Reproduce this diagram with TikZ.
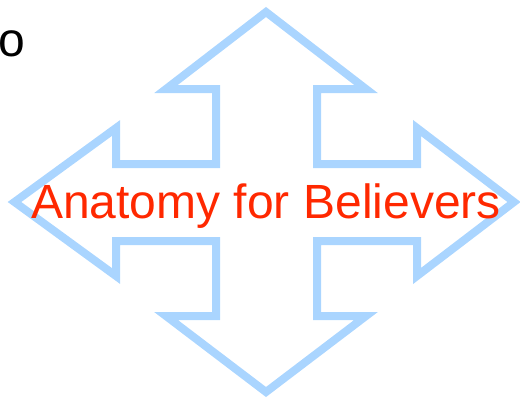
\documentclass[tikz,border=0pt]{standalone}
\usepackage{fontspec}
\setmainfont{Liberation Sans}
\definecolor{arrowblue}{RGB}{170,213,255}
\definecolor{titlered}{RGB}{255,40,0}
\tikzset{
  quadarrow/.style={draw=arrowblue, line width=8pt, line join=miter, fill=none},
  titletext/.style={text=titlered, font=\fontsize{48}{58}\selectfont, inner sep=0pt, anchor=base},
  cornertext/.style={text=black, font=\fontsize{48}{58}\selectfont, inner sep=0pt, anchor=base east}
}
\begin{document}
\begin{tikzpicture}[x=1pt,y=-1pt]
\useasboundingbox (0,0) rectangle (520,399);
% four-way arrow outline
\draw[quadarrow]
  (266,12) -- (366,89) -- (317,89) -- (317,164) -- (417,164) -- (417,128)
  -- (514,202) -- (417,276) -- (417,241) -- (317,241) -- (317,316)
  -- (366,316) -- (266,392) -- (166,316) -- (216,316) -- (216,241)
  -- (116,241) -- (116,276) -- (14.5,202) -- (116,128) -- (116,164)
  -- (216,164) -- (216,89) -- (166,89) -- cycle;
\node[titletext] (title) at (266,218) {Anatomy for Believers};
\node[cornertext] (corner) at (25.7,56.5) {o};
\end{tikzpicture}
\end{document}
